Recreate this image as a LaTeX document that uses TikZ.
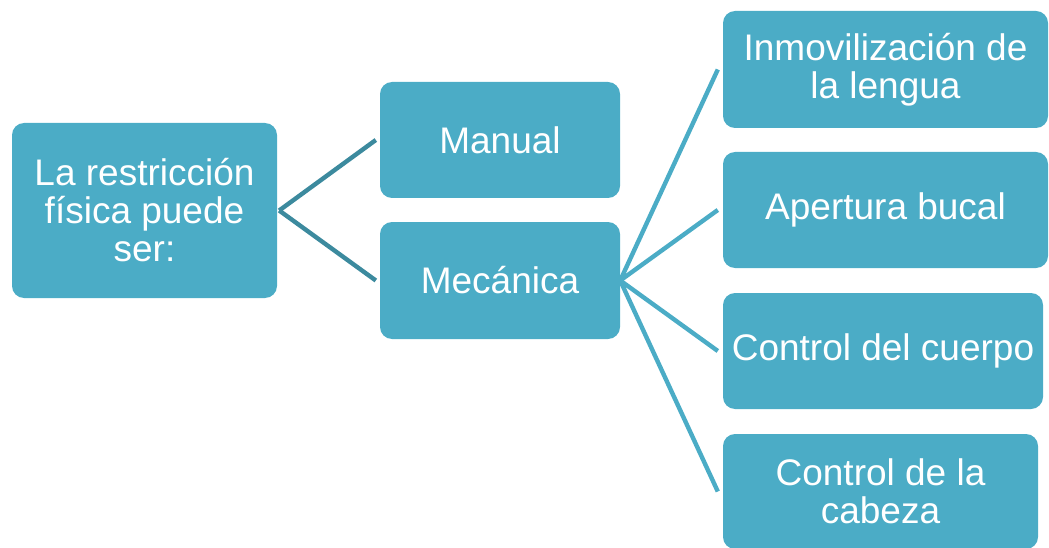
\documentclass[tikz,border=0pt]{standalone}
\usepackage{fontspec}
\setmainfont{Liberation Sans}
\usetikzlibrary{calc}
\definecolor{boxblue}{HTML}{4BACC6}
\definecolor{linkdark}{HTML}{3C8A9E}
\begin{document}
\begin{tikzpicture}[x=1pt, y=-1pt,
	box/.style={fill=boxblue, rounded corners=12pt, text=white,
		align=center, inner sep=2pt,
		font=\fontsize{37}{38}\selectfont},
	link/.style={line width=4.4pt}]
\useasboundingbox (0,0) rectangle (1049,548);
\node[box, minimum width=265pt, minimum height=175pt]
	(root) at (144.5,210.5) {La restricción\\física puede\\ser:};
\node[box, minimum width=240pt, minimum height=116pt]
	(manual) at (500,140) {Manual};
\node[box, minimum width=240pt, minimum height=117pt]
	(mecanica) at (500,280.5) {Mecánica};
\node[box, minimum width=325pt, minimum height=117pt]
	(lengua) at (885.5,69.5) {Inmovilización de\\la lengua};
\node[box, minimum width=325pt, minimum height=116pt]
	(bucal) at (885.5,210) {Apertura bucal};
\node[box, minimum width=320pt, minimum height=116pt]
	(cuerpo) at (883,351) {Control del cuerpo};
\node[box, minimum width=315pt, minimum height=115pt]
	(cabeza) at (880.5,491.5) {Control de la\\cabeza};
\foreach \n in {manual,mecanica} \draw[link, linkdark]
	($(root.east)+(2,0)$) -- ($(\n.west)+(-4,0)$);
\foreach \n in {lengua,bucal,cuerpo,cabeza} \draw[link, boxblue]
	(mecanica.east) -- ($(\n.west)+(-5,0)$);
\end{tikzpicture}
\end{document}
